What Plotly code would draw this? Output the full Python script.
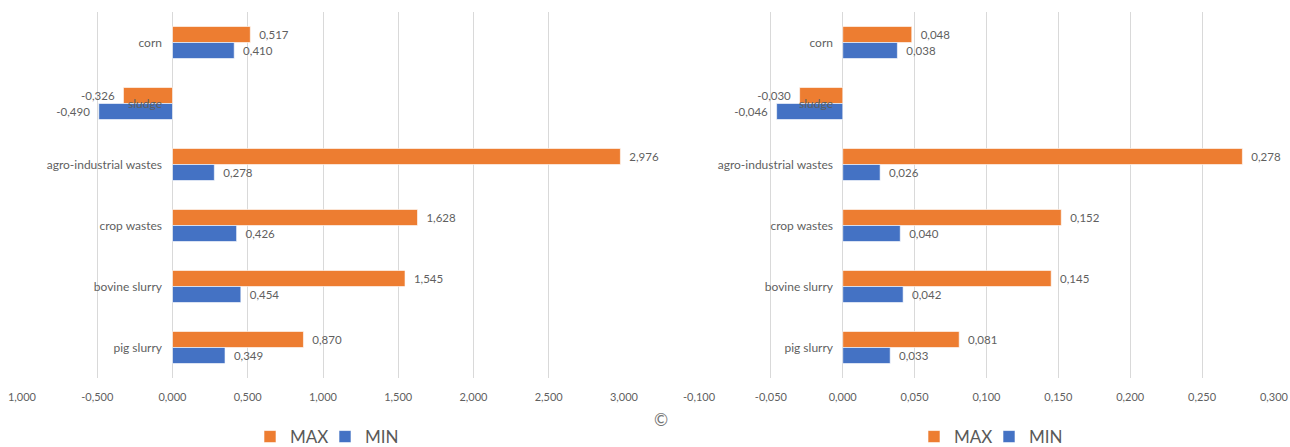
import plotly.graph_objects as go

# Feedstock categories, listed top to bottom
categories = ["corn", "sludge", "agro-industrial wastes", "crop wastes", "bovine slurry", "pig slurry"]

# Left panel
left_max = [0.517, -0.326, 2.976, 1.628, 1.545, 0.870]
left_min = [0.410, -0.490, 0.278, 0.426, 0.454, 0.349]
left_tickvals = [-1.0, -0.5, 0.0, 0.5, 1.0, 1.5, 2.0, 2.5, 3.0]
left_ticktext = ["1,000", "-0,500", "0,000", "0,500", "1,000", "1,500", "2,000", "2,500", "3,000"]

# Right panel
right_max = [0.048, -0.030, 0.278, 0.152, 0.145, 0.081]
right_min = [0.038, -0.046, 0.026, 0.040, 0.042, 0.033]
right_tickvals = [-0.10, -0.05, 0.0, 0.05, 0.10, 0.15, 0.20, 0.25, 0.30]
right_ticktext = ["-0,100", "-0,050", "0,000", "0,050", "0,100", "0,150", "0,200", "0,250", "0,300"]

ORANGE = "#ED7D31"
BLUE = "#4472C4"
GRID = "#D9D9D9"
TEXT = "#5f5f5f"
FONT = "Lato, Liberation Sans, sans-serif"

W, H = 1290, 447


def px_x(p):
    return p / W


def px_y(p):
    return (H - p) / H


def fmt(v):
    s = f"{v:.3f}".replace(".", ",")
    pad = "\u00a0\u00a0"
    return s + pad if v < 0 else pad + s


fig = go.Figure()

series = [
    ("MAX", ORANGE, left_max, right_max),
    ("MIN", BLUE, left_min, right_min),
]
for name, color, lv, rv in series:
    fig.add_trace(go.Bar(
        name=name, y=categories, x=lv, orientation="h",
        marker=dict(color=color, line=dict(color="white", width=0.6)),
        text=[fmt(v) for v in lv], textposition="outside",
        textfont=dict(family=FONT, size=11.5, color=TEXT),
        cliponaxis=False, xaxis="x", yaxis="y", legend="legend",
    ))
    fig.add_trace(go.Bar(
        name=name, y=categories, x=rv, orientation="h",
        marker=dict(color=color, line=dict(color="white", width=0.6)),
        text=[fmt(v) for v in rv], textposition="outside",
        textfont=dict(family=FONT, size=11.5, color=TEXT),
        cliponaxis=False, xaxis="x2", yaxis="y2", legend="legend2",
    ))

ydom = [px_y(378), px_y(12)]

xcommon = dict(
    showgrid=True, gridcolor=GRID, gridwidth=1,
    zeroline=True, zerolinecolor=GRID, zerolinewidth=1,
    showline=False, ticks="", tickmode="array", automargin=False,
    tickfont=dict(family=FONT, size=11, color=TEXT),
    ticklabelstandoff=11, fixedrange=True,
)
ycommon = dict(
    type="category", autorange="reversed", showgrid=False, zeroline=False,
    showline=False, ticks="", anchor="free", automargin=False,
    tickfont=dict(family=FONT, size=12, color=TEXT),
    ticklabelstandoff=10, domain=ydom,
)

legend_common = dict(
    orientation="h", xanchor="left", yanchor="middle", y=px_y(437),
    font=dict(family=FONT, size=17, color="#595959"), bgcolor="rgba(0,0,0,0)",
    entrywidth=30, entrywidthmode="pixels", itemwidth=30, tracegroupgap=0,
)

fig.update_layout(
    width=W, height=H,
    margin=dict(l=0, r=0, t=0, b=0, autoexpand=False),
    paper_bgcolor="white", plot_bgcolor="white",
    barmode="group", bargap=0.475, bargroupgap=0,
    font=dict(family=FONT, color=TEXT),
    xaxis=dict(domain=[px_x(22), px_x(624)], range=[-1.0, 3.0],
               tickvals=left_tickvals, ticktext=left_ticktext, anchor="y", **xcommon),
    xaxis2=dict(domain=[px_x(699), px_x(1274)], range=[-0.1, 0.3],
                tickvals=right_tickvals, ticktext=right_ticktext, anchor="y2", **xcommon),
    yaxis=dict(position=px_x(172), **ycommon),
    yaxis2=dict(position=px_x(843), **ycommon),
    legend=dict(x=px_x(250), **legend_common),
    legend2=dict(x=px_x(914), **legend_common),
    annotations=[dict(text="©", x=px_x(661), y=px_y(432), xref="paper", yref="paper",
                      showarrow=False, font=dict(family=FONT, size=17, color="#777777"))],
    showlegend=True,
)

fig.write_html("out.html")
